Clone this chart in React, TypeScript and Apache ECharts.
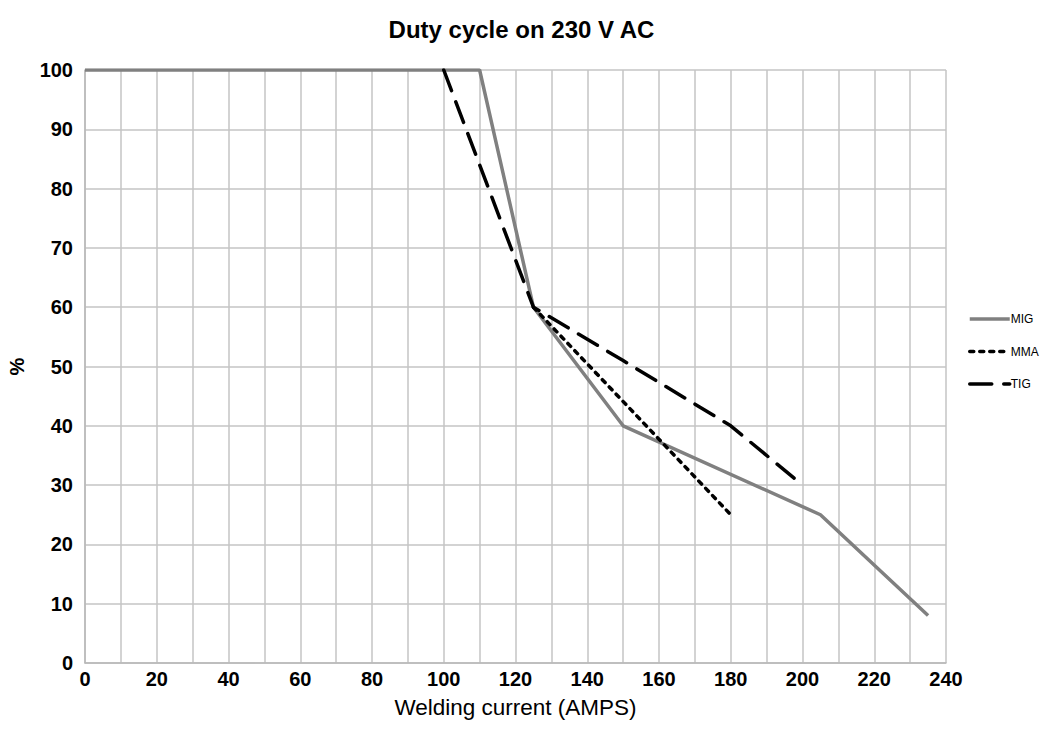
import React, { useEffect, useRef } from "react";
import * as echarts from "echarts";

const migData: [number, number][] = [[0, 100], [110, 100], [125, 60], [150, 40], [205, 25], [235, 8]];
const mmaData: [number, number][] = [[125, 60], [180, 25]];
const tigData: [number, number][] = [[100, 100], [125, 60], [150, 51], [180, 40], [200, 30]];
const seriesNames = ["MIG", "MMA", "TIG"];

const FONT = "'Liberation Sans', Arial, sans-serif";

export default function App() {
  const ref = useRef<HTMLDivElement>(null);
  useEffect(() => {
    const chart = echarts.init(ref.current!, null, { renderer: "svg" });
    chart.setOption({
      animation: false,
      backgroundColor: "#ffffff",
      title: {
        text: "Duty cycle on 230 V AC",
        left: "center",
        top: 12,
        textStyle: { fontFamily: FONT, fontSize: 24, fontWeight: "bold", color: "#000" },
      },
      grid: { left: 85, right: 97, top: 70, bottom: 84, containLabel: false, outerBoundsMode: "none" },
      legend: {
        orient: "vertical",
        left: 963,
        top: 308,
        itemWidth: 40,
        itemHeight: 10,
        itemGap: 20.5,
        itemStyle: { opacity: 0 },
        lineStyle: { width: 3.5 },
        textStyle: { fontFamily: FONT, fontSize: 12, color: "#000", padding: [0, 0, 0, -4] },
        data: seriesNames,
      },
      xAxis: {
        type: "value",
        min: 0,
        max: 240,
        interval: 10,
        name: "Welding current (AMPS)",
        nameLocation: "middle",
        nameGap: 33,
        nameTextStyle: { fontFamily: FONT, fontSize: 22.5, color: "#000" },
        axisLine: { show: true, lineStyle: { color: "#b8b8b8", width: 1.5 } },
        axisTick: { show: false },
        splitLine: { show: true, lineStyle: { color: "#c4c4c4", width: 1.5 } },
        axisLabel: {
          fontFamily: FONT,
          fontSize: 20,
          fontWeight: "bold",
          color: "#000",
          margin: 6,
          formatter: (v: number) => (v % 20 === 0 ? String(v) : ""),
        },
      },
      yAxis: {
        type: "value",
        min: 0,
        max: 100,
        interval: 10,
        name: "%",
        nameLocation: "middle",
        nameGap: 58,
        nameTextStyle: { fontFamily: FONT, fontSize: 20, fontWeight: "bold", color: "#000" },
        axisLine: { show: true, lineStyle: { color: "#b8b8b8", width: 1.5 } },
        axisTick: { show: false },
        splitLine: { show: true, lineStyle: { color: "#c4c4c4", width: 1.5 } },
        axisLabel: { fontFamily: FONT, fontSize: 20, fontWeight: "bold", color: "#000", margin: 12 },
      },
      series: [
        {
          name: "MIG",
          type: "line",
          data: migData,
          showSymbol: false,
          symbol: "none",
          lineStyle: { color: "#808080", width: 3.5, type: "solid" },
          itemStyle: { color: "#808080" },
          z: 3,
        },
        {
          name: "MMA",
          type: "line",
          data: mmaData,
          showSymbol: false,
          symbol: "none",
          lineStyle: { color: "#000", width: 3.5, type: [4, 6], cap: "round" },
          itemStyle: { color: "#000" },
          z: 4,
        },
        {
          name: "TIG",
          type: "line",
          data: tigData,
          showSymbol: false,
          symbol: "none",
          lineStyle: { color: "#000", width: 3.5, type: [22, 12], cap: "round" },
          itemStyle: { color: "#000" },
          z: 5,
        },
      ],
    });
    return () => chart.dispose();
  }, []);
  return <div ref={ref} style={{ width: 1043, height: 747, position: "absolute", left: 0, top: 0 }} />;
}
